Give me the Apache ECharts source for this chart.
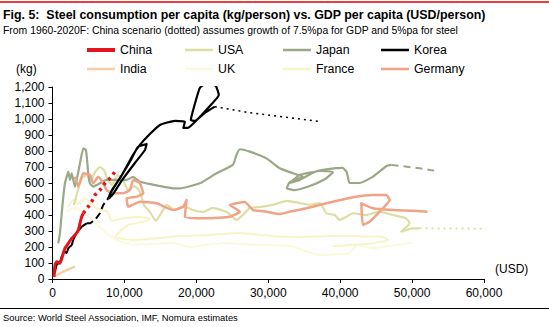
<!DOCTYPE html>
<html>
<head>
<meta charset="utf-8">
<script src="https://cdn.jsdelivr.net/npm/echarts@6/dist/echarts.min.js"></script>
<style>
html,body{margin:0;padding:0;background:#fff;}
#chart{width:549px;height:327px;}
</style>
</head>
<body>
<div id="chart"></div>
<script>
// ---- Data (x = GDP per capita USD, y = steel consumption kg/person) ----
const xTicks = [0, 10000, 20000, 30000, 40000, 50000, 60000];
const yTicks = [0, 100, 200, 300, 400, 500, 600, 700, 800, 900, 1000, 1100, 1200];

const chinaActual = [[208,13],[347,88],[583,108],[1042,98],[1500,161],[1736,192],[2194,223],[2667,254],[3125,275],[3583,306],[3819,348],[4056,389],[4278,411]];
const chinaScenario = [[4278,411],[4972,452],[5444,483],[5903,525],[6597,556],[7292,598],[8222,640],[8681,671]];

const usaActual = [[2986,463],[3542,556],[4097,631],[4792,650],[5208,606],[5903,669],[6597,700],[7153,681],[7708,619],[8264,588],[9097,650],[9792,619],[10486,556],[11458,581],[12153,544],[12708,463],[13542,419],[14375,363],[15208,419],[15903,463],[17014,431],[18264,456],[19514,431],[20903,419],[22292,444],[24236,419],[25625,369],[26458,400],[27431,444],[28819,450],[30625,463],[32569,488],[34375,475],[35764,463],[37153,475],[38083,411],[39236,400],[39931,369],[40861,389],[41778,411],[43639,400],[45486,421],[47333,400],[49194,379],[49653,348],[48500,296],[50111,317],[51042,317]];
const usaForecast = [[51042,317],[63778,313]];

const japanActual = [[806,223],[1042,288],[1300,420],[1500,514],[1736,600],[1972,639],[2194,671],[2431,619],[2667,661],[3125,577],[3819,723],[4278,817],[4653,806],[4972,661],[5208,598],[5667,577],[6597,598],[7528,619],[8403,619],[9375,619],[10306,619],[11181,638],[12153,608],[14931,581],[16736,567],[17708,567],[20486,598],[22806,661],[25069,713],[25583,775],[26042,811],[27431,796],[29750,754],[31597,692],[33444,661],[34792,639],[32986,606],[32569,567],[33681,556],[35764,581],[37917,625],[39028,669],[37153,675],[34375,650],[32986,600],[34375,619],[36458,669],[38542,688],[40347,694],[40903,669],[41319,600],[42708,600],[44514,638],[46458,706],[47153,713]];
const japanForecast = [[47153,713],[51042,692],[53125,677]];

const koreaEarly = [[208,31],[347,46],[583,88],[1042,108],[1278,139],[1736,171],[1972,161],[2194,192],[2667,213],[2889,244],[3361,286],[4056,327],[4750,348]];
const koreaGap = [[4750,348],[5208,348],[5903,369],[6597,411],[7056,463],[7750,504]];
const koreaLate = [[7750,504],[8264,556],[9375,631],[10903,744],[11875,825],[13083,844],[12847,806],[11458,725],[9700,620],[8400,530],[7900,505],[8100,540],[9653,650],[11181,775],[12153,838],[13542,906],[14931,963],[17014,988],[18403,983],[18194,944],[18819,944],[20208,1000],[21875,1081],[23125,1150],[22708,1206],[21458,1225],[20486,1194],[19792,1094],[19236,994],[19792,988],[21181,1038],[22569,1077]];
const koreaForecast = [[22569,1077],[27431,1039],[37389,983]];

const india = [[208,13],[1042,36],[1972,56],[3125,77]];

const uk = [[1875,419],[3125,444],[4514,413],[5903,356],[7292,294],[8958,244],[11181,213],[13542,219],[16736,225],[19097,200],[23681,225],[28403,213],[32986,206],[37153,150],[41319,163],[42292,213],[44514,194],[47847,213],[50069,225]];

const france = [[2153,450],[2847,494],[3542,469],[4514,506],[5486,463],[6597,431],[7569,425],[8264,363],[10069,381],[12153,388],[13542,375],[12431,356],[10486,338],[8681,263],[11181,244],[14931,256],[17708,269],[21875,275],[26042,288],[30208,269],[34375,263],[39931,269],[45903,263],[46736,244],[43681,219],[38958,206]];

const germany = [[3125,639],[3583,577],[4278,661],[5208,650],[5667,598],[6361,639],[7056,598],[7528,556],[8444,536],[9833,536],[10764,556],[11222,619],[12153,598],[12611,536],[11694,514],[10306,504],[10528,452],[12153,483],[14472,473],[16778,431],[18167,452],[18639,494],[18403,389],[21417,379],[24653,389],[26042,421],[24653,463],[26736,481],[27889,431],[29750,421],[31597,406],[32986,421],[35306,442],[37153,463],[39000,483],[41778,511],[44556,525],[46417,525],[46875,494],[45486,421],[44097,358],[43167,338],[42944,473],[44556,442],[47333,431],[50111,427],[52153,421]];

const legendRow1 = ['China','USA','Japan','Korea'];
const legendRow2 = ['India','UK','France','Germany'];

// ---- Styles ----
const FONT = 'Liberation Sans, Arial, sans-serif';
const colors = {
  China:'#e3141b', USA:'#dcdea2', Japan:'#9aa887', Korea:'#000000',
  India:'#f6cfa2', UK:'#fbf9dc', France:'#f8f4c8', Germany:'#f1a386'
};

function ser(name, data, width, type, extra){
  return Object.assign({
    type:'line', name:name, data:data, symbol:'none', smooth:0.15,
    lineStyle:{color:colors[name], width:width, type:type||'solid', cap:'butt', join:'round'},
    itemStyle:{color:colors[name]},
    emphasis:{disabled:true}, animation:false
  }, extra||{});
}

const series = [
  ser('UK', uk, 2),
  ser('France', france, 2),
  ser('India', india, 2.5),
  ser('USA', usaActual, 2.2),
  ser('USA', usaForecast, 2, [2,4], {clip:false, smooth:false}),
  ser('Japan', japanActual, 2.2),
  ser('Japan', japanForecast, 2, [7,5], {smooth:false}),
  ser('Germany', germany, 2.5),
  ser('Korea', koreaEarly, 2),
  ser('Korea', koreaGap, 2, [7,4], {smooth:false}),
  ser('Korea', koreaLate, 2.2),
  ser('Korea', koreaForecast, 1.5, [2,4], {smooth:false}),
  ser('China', chinaActual, 3),
  ser('China', chinaScenario, 3.5, [3,4], {smooth:false})
];

const colX = [87, 185, 283, 381];
const legends = [];
legendRow1.forEach((n,i)=>legends.push({name:n, left:colX[i], top:44}));
legendRow2.forEach((n,i)=>legends.push({name:n, left:colX[i], top:63}));

const chart = echarts.init(document.getElementById('chart'), null, {renderer:'svg'});
chart.setOption({
  animation:false,
  backgroundColor:'#fff',
  textStyle:{fontFamily:FONT},
  grid:{left:52.5, right:65, top:87, bottom:48, containLabel:false},
  legend: legends.map(l=>({
    data:[{name:l.name, icon:'rect', itemStyle:{color:colors[l.name]}}],
    left:l.left, top:l.top, itemWidth:28, itemHeight:(l.name==='China'?4:2.5),
    selectedMode:false, padding:0,
    textStyle:{fontFamily:FONT, fontSize:12.3, color:'#000', padding:[0,0,0,0]}
  })),
  xAxis:{
    type:'value', min:xTicks[0], max:xTicks[xTicks.length-1], interval:10000,
    axisLine:{show:true, lineStyle:{color:'#000', width:1}},
    axisTick:{show:true, inside:false, length:4, lineStyle:{color:'#000'}},
    axisLabel:{fontFamily:FONT, fontSize:12, color:'#000', margin:8,
      formatter:v=>v.toLocaleString('en-US')},
    splitLine:{show:false}
  },
  yAxis:{
    type:'value', min:yTicks[0], max:yTicks[yTicks.length-1], interval:100,
    axisLine:{show:true, lineStyle:{color:'#000', width:1}},
    axisTick:{show:true, inside:false, length:4, lineStyle:{color:'#000'}},
    axisLabel:{fontFamily:FONT, fontSize:12, color:'#000', margin:8,
      formatter:v=>v.toLocaleString('en-US')},
    splitLine:{show:false}
  },
  graphic:[
    {type:'line', shape:{x1:0,y1:2,x2:549,y2:2}, style:{stroke:'#e00000', lineWidth:1.5}},
    {type:'text', left:3, top:9, style:{text:'Fig. 5:  Steel consumption per capita (kg/person) vs. GDP per capita (USD/person)', font:'bold 12.4px '+FONT, fill:'#000'}},
    {type:'text', left:3, top:25, style:{text:'From 1960-2020F: China scenario (dotted) assumes growth of 7.5%pa for GDP and 5%pa for steel', font:'10.4px '+FONT, fill:'#000'}},
    {type:'text', left:16, top:63, style:{text:'(kg)', font:'12px '+FONT, fill:'#000'}},
    {type:'text', left:495, top:263, style:{text:'(USD)', font:'12px '+FONT, fill:'#000'}},
    {type:'line', shape:{x1:0,y1:308.5,x2:549,y2:308.5}, style:{stroke:'#000', lineWidth:1}},
    {type:'text', left:3, top:313, style:{text:'Source: World Steel Association, IMF, Nomura estimates', font:'9.4px '+FONT, fill:'#000'}}
  ],
  series: series
});
</script>
</body>
</html>
